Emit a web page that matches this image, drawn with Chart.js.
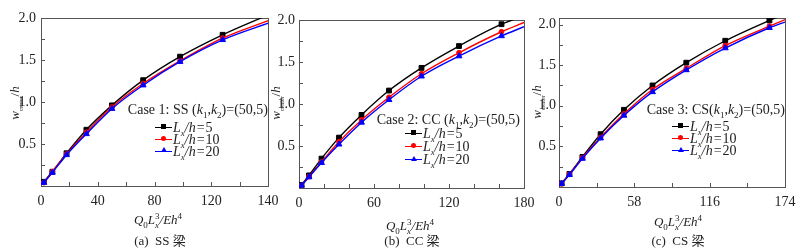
<!DOCTYPE html>
<html>
<head>
<meta charset="utf-8">
<script src="https://cdn.jsdelivr.net/npm/chart.js@4.4.1/dist/chart.umd.min.js"></script>
<style>
body{margin:0;width:805px;height:250px;background:#fff;position:relative;overflow:hidden;
  font-family:"Liberation Serif","DejaVu Serif",serif;color:#222}
.box{position:absolute;top:0;height:250px}
.t{position:absolute;white-space:nowrap;font-size:14px;line-height:14px}
.t sub,.t sup{font-size:9px;line-height:0}
.cjk{font-family:"Noto Sans CJK SC",sans-serif;font-size:13px}
.ytl{transform:translate(-50%,-50%) rotate(-90deg);font-size:13px}
.ytl sub{font-size:6px}
.sym{position:absolute;width:17px;height:0;border-top:1.5px solid}
.mk{position:absolute;left:6px;top:-3.8px;width:5px;height:5px}
.sq{background:#000}
.ci{background:#f00;border-radius:50%}
.tr{left:5.5px;top:-4.5px;width:0;height:0;border-left:3px solid transparent;border-right:3px solid transparent;border-bottom:5.5px solid #00f}
.eq{margin:0 1px}
</style>
</head>
<body>

<div class="box" style="left:1px;width:287px"><canvas id="c1"></canvas></div>
<div class="box" style="left:259px;width:285px"><canvas id="c2"></canvas></div>
<div class="box" style="left:519px;width:286px"><canvas id="c3"></canvas></div>

<!-- y titles -->
<div class="t ytl" style="left:15px;top:103px"><i>w</i><sub>center</sub>/<i>h</i></div>
<div class="t ytl" style="left:276px;top:103px"><i>w</i><sub>center</sub>/<i>h</i></div>
<div class="t ytl" style="left:537px;top:102px"><i>w</i><sub>center</sub>/<i>h</i></div>

<!-- x titles -->
<div class="t" style="left:158px;top:213px;transform:translateX(-50%);font-size:13px"><i>Q</i><sub>0</sub><i>L</i><sub><i>x</i></sub><sup style="margin-left:-4px">3</sup><i>/Eh</i><sup>4</sup></div>
<div class="t" style="left:410px;top:219px;transform:translateX(-50%);font-size:13px"><i>Q</i><sub>0</sub><i>L</i><sub><i>x</i></sub><sup style="margin-left:-4px">3</sup><i>/Eh</i><sup>4</sup></div>
<div class="t" style="left:678px;top:215px;transform:translateX(-50%);font-size:13px"><i>Q</i><sub>0</sub><i>L</i><sub><i>x</i></sub><sup style="margin-left:-4px">3</sup><i>/Eh</i><sup>4</sup></div>

<!-- captions -->
<div class="t" style="left:160px;top:233px;transform:translateX(-50%);font-size:13px">(a)&nbsp;&nbsp;SS <span class="cjk">梁</span></div>
<div class="t" style="left:412px;top:233px;transform:translateX(-50%);font-size:13px">(b)&nbsp;&nbsp;CC <span class="cjk">梁</span></div>
<div class="t" style="left:678px;top:233px;transform:translateX(-50%);font-size:13px">(c)&nbsp;&nbsp;CS <span class="cjk">梁</span></div>

<!-- case notes -->
<div class="t" style="right:537px;top:103px">Case 1: SS (<i>k</i><sub>1</sub>,<i>k</i><sub>2</sub>)=(50,5)</div>
<div class="t" style="right:285px;top:113px">Case 2: CC (<i>k</i><sub>1</sub>,<i>k</i><sub>2</sub>)=(50,5)</div>
<div class="t" style="right:20px;top:103px">Case 3: CS(<i>k</i><sub>1</sub>,<i>k</i><sub>2</sub>)=(50,5)</div>

<div id="legends"></div>

<script>
// x positions of the markers (load parameter)
var loadX = [2, 8, 18, 32, 50, 72, 98, 128, 162];

// (a) SS beam - last point lies past the end of the axis
var ssX    = [2, 8, 18, 32, 50, 72, 98, 128, 162];
var ssLx5  = [0.05, 0.17, 0.39, 0.67, 0.96, 1.26, 1.54, 1.80, 2.05];
var ssLx10 = [0.04, 0.17, 0.38, 0.64, 0.94, 1.22, 1.49, 1.76, 1.98];
var ssLx20 = [0.04, 0.16, 0.37, 0.62, 0.92, 1.20, 1.48, 1.74, 1.95];

// (b) CC beam - curve continues to x=180
var ccX    = [2, 8, 18, 32, 50, 72, 98, 128, 162, 180];
var ccLx5  = [0.036, 0.15, 0.35, 0.60, 0.87, 1.16, 1.43, 1.69, 1.95, 2.05];
var ccLx10 = [0.03, 0.135, 0.31, 0.55, 0.81, 1.08, 1.36, 1.61, 1.86, 1.97];
var ccLx20 = [0.03, 0.13, 0.30, 0.52, 0.78, 1.05, 1.33, 1.57, 1.81, 1.92];

// (c) CS beam - curve continues to x=174
var csX    = [2, 8, 18, 32, 50, 72, 98, 128, 162, 174];
var csLx5  = [0.045, 0.16, 0.37, 0.65, 0.95, 1.25, 1.53, 1.80, 2.05, 2.13];
var csLx10 = [0.04, 0.155, 0.36, 0.61, 0.90, 1.20, 1.46, 1.74, 1.98, 2.06];
var csLx20 = [0.04, 0.15, 0.35, 0.60, 0.88, 1.17, 1.44, 1.71, 1.96, 2.03];

// ticks
var yTicks  = [0, 0.25, 0.5, 0.75, 1, 1.25, 1.5, 1.75, 2];
var yLabels = ['', '', '0.5', '', '1.0', '', '1.5', '', '2.0'];
var ssTicks  = [0, 20, 40, 60, 80, 100, 120, 140, 160];
var ssLabels = ['0', '', '40', '', '80', '', '120', '', '140'];
var ccTicks  = [0, 20, 40, 60, 80, 100, 120, 140, 160, 180];
var ccLabels = ['0', '', '', '60', '', '', '120', '', '', '180'];
var csTicks  = [0, 29, 58, 87, 116, 145, 174];
var csLabels = ['0', '', '58', '', '116', '', '174'];

var seriesNames = ['L_x/h=5', 'L_x/h=10', 'L_x/h=20'];
var colors = ['#000000', '#ff0000', '#0000ff'];
var markers = ['rect', 'circle', 'triangle'];
var markerSize = [3.4, 2.4, 3.4];

// frame + inward tick marks
var frameTicks = {
	id: 'frameTicks',
	beforeDatasetsDraw: function(chart) {
		var a = chart.chartArea, c = chart.ctx;
		var sx = chart.scales.x, sy = chart.scales.y;
		c.save();
		c.strokeStyle = '#555';
		c.lineWidth = 1;
		c.strokeRect(Math.round(a.left) + 0.5, Math.round(a.top) + 0.5,
			Math.round(a.right - a.left), Math.round(a.bottom - a.top));
		c.beginPath();
		sx.ticks.forEach(function(t) {
			var p = Math.round(sx.getPixelForValue(t.value)) + 0.5;
			c.moveTo(p, a.bottom);
			c.lineTo(p, a.bottom - 4);
		});
		sy.ticks.forEach(function(t) {
			var p = Math.round(sy.getPixelForValue(t.value)) + 0.5;
			c.moveTo(a.left, p);
			c.lineTo(a.left + 4, p);
		});
		c.stroke();
		c.restore();
	}
};

function makeChart(id, xs, series, xTicks, xLabels, xMax, yMax, area) {
	var datasets = series.map(function(vals, k) {
		return {
			label: seriesNames[k],
			data: xs.map(function(x, i) { return {x: x, y: vals[i]}; }),
			borderColor: colors[k],
			backgroundColor: colors[k],
			pointBackgroundColor: colors[k],
			pointBorderColor: colors[k],
			pointStyle: markers[k],
			pointBorderWidth: 1,
			pointRadius: function(ctx) {
				var x = xs[ctx.dataIndex];
				return (loadX.indexOf(x) >= 0 && x <= xMax) ? markerSize[k] : 0;
			},
			borderWidth: 1.4,
			cubicInterpolationMode: 'monotone',
			fill: false,
			clip: 0
		};
	}).reverse();

	var tickFont = {family: '"Liberation Serif", serif', size: 14};

	return new Chart(document.getElementById(id), {
		type: 'line',
		data: {datasets: datasets},
		options: {
			responsive: true,
			maintainAspectRatio: false,
			animation: false,
			events: [],
			layout: {padding: {left: 0, top: area.top, right: 20, bottom: 250 - area.bottom - 30}},
			plugins: {legend: {display: false}, tooltip: {enabled: false}},
			scales: {
				x: {
					type: 'linear', min: 0, max: xMax,
					grid: {display: false, drawTicks: false},
					border: {display: false},
					afterFit: function(s) { s.height = 30; },
					afterBuildTicks: function(s) { s.ticks = xTicks.map(function(v) { return {value: v}; }); },
					ticks: {
						autoSkip: false, maxRotation: 0, padding: 7, color: '#222', font: tickFont,
						callback: function(v) { var i = xTicks.indexOf(v); return i < 0 ? '' : xLabels[i]; }
					}
				},
				y: {
					type: 'linear', min: 0, max: yMax,
					grid: {display: false, drawTicks: false},
					border: {display: false},
					afterFit: function(s) { s.width = 40; },
					afterBuildTicks: function(s) { s.ticks = yTicks.map(function(v) { return {value: v}; }); },
					ticks: {
						padding: area.ypad, color: '#222', font: tickFont,
						callback: function(v) { var i = yTicks.indexOf(v); return i < 0 ? '' : yLabels[i]; }
					}
				}
			}
		},
		plugins: [frameTicks]
	});
}

makeChart('c1', ssX, [ssLx5, ssLx10, ssLx20], ssTicks, ssLabels, 160, 2.0, {top: 18, bottom: 186, ypad: 5});
makeChart('c2', ccX, [ccLx5, ccLx10, ccLx20], ccTicks, ccLabels, 180, 2.0, {top: 20, bottom: 188, ypad: 4});
makeChart('c3', csX, [csLx5, csLx10, csLx20], csTicks, csLabels, 174, 2.08, {top: 18, bottom: 187, ypad: 3});

// legends (html, so the subscript x can be shown)
var legendSpots = [
	{left: 155, rows: [127.5, 139.5, 151.5]},
	{left: 405, rows: [134, 147, 160]},
	{left: 672, rows: [127, 139, 151]}
];
var mkClass = ['sq', 'ci', 'tr'];
var html = '';
legendSpots.forEach(function(sp) {
	sp.rows.forEach(function(y, k) {
		var parts = seriesNames[k].split('=');
		html += '<div class="sym" style="left:' + sp.left + 'px;top:' + (y - 0.75) + 'px;border-color:' + colors[k] + '">' +
			'<span class="mk ' + mkClass[k] + '"></span></div>';
		html += '<div class="t" style="left:' + (sp.left + 18) + 'px;top:' + (y - 7) + 'px">' +
			'<i>L</i><sub><i>x</i></sub><i>/h</i><span class="eq">=</span>' + parts[1] + '</div>';
	});
});
document.getElementById('legends').innerHTML = html;
</script>
</body>
</html>
